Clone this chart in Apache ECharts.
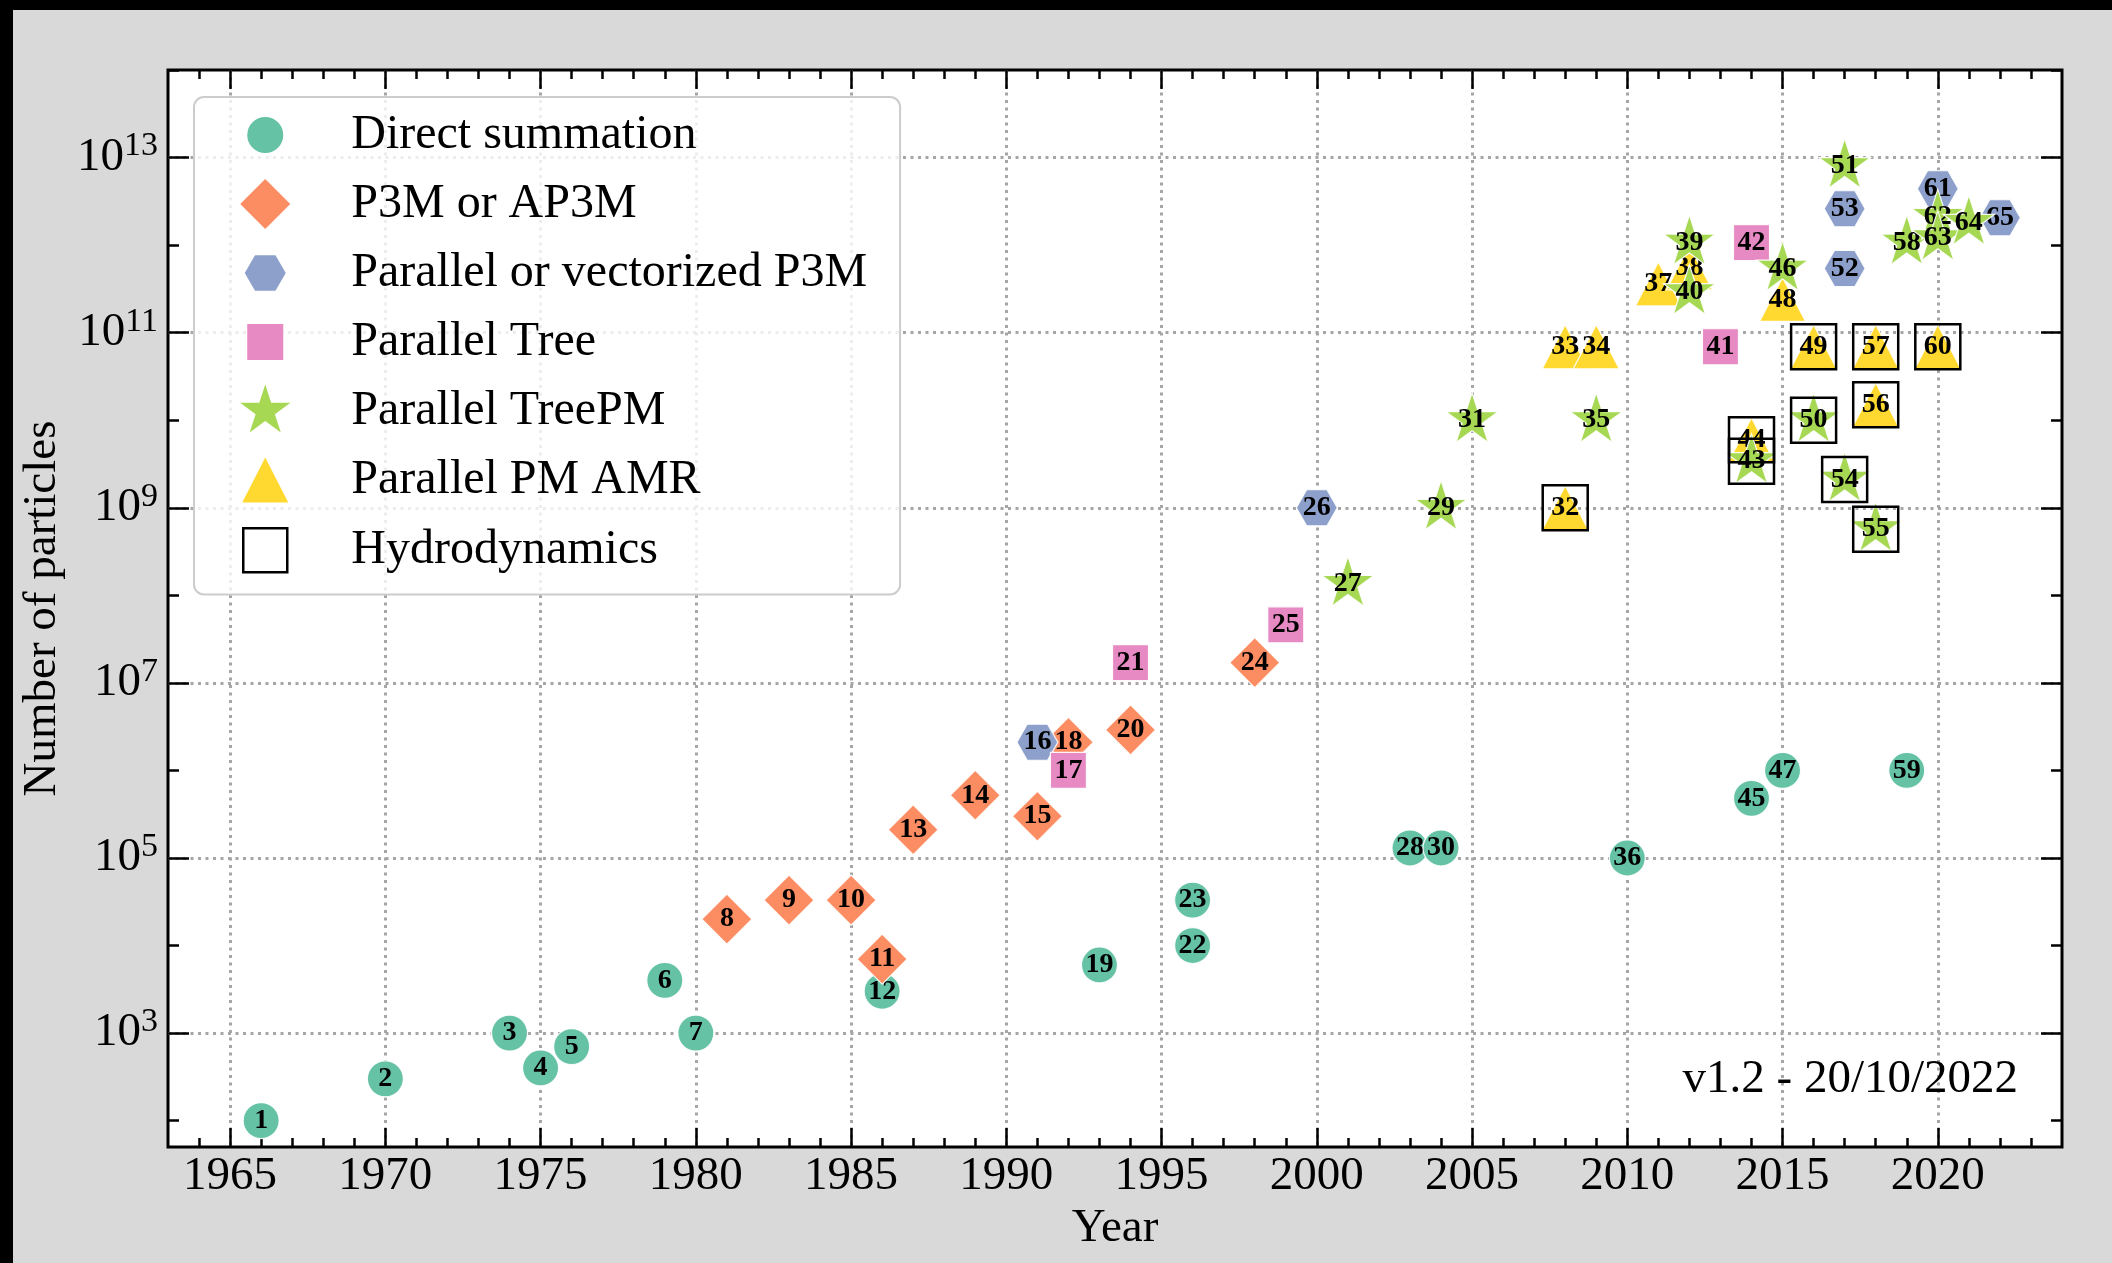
<!DOCTYPE html>
<html>
<head>
<meta charset="utf-8">
<script src="https://cdn.jsdelivr.net/npm/echarts@6/dist/echarts.min.js"></script>
<style>
html, body { margin: 0; padding: 0; background: #d9d9d9; }
#main { width: 2112px; height: 1263px; }
</style>
</head>
<body>
<div id="main"></div>
<script>
var methodNames = ['Direct summation', 'P3M or AP3M', 'Parallel or vectorized P3M',
  'Parallel Tree', 'Parallel TreePM', 'Parallel PM AMR'];
var hydroName = 'Hydrodynamics';

// simulation year, number of particles, method (index in methodNames)
var years = [1966, 1970, 1974, 1975, 1976, 1979, 1980, 1981, 1983, 1985,
  1986, 1986, 1987, 1989, 1991, 1991, 1992, 1992, 1993, 1994,
  1994, 1996, 1996, 1998, 1999, 2000, 2001, 2003, 2004, 2004,
  2005, 2008, 2008, 2009, 2009, 2010, 2011, 2012, 2012, 2012,
  2013, 2014, 2014, 2014, 2014, 2015, 2015, 2015, 2016, 2016,
  2017, 2017, 2017, 2017, 2018, 2018, 2018, 2019, 2019, 2020,
  2020, 2020, 2020, 2021, 2022];
var particles = [1e2, 3e2, 1e3, 4e2, 7e2, 4e3, 1e3, 2e4, 3.3e4, 3.3e4,
  7e3, 3e3, 2.1e5, 5.2e5, 3e5, 2.1e6, 1e6, 2.1e6, 6e3, 2.9e6,
  1.7e7, 1e4, 3.3e4, 1.7e7, 4.6e7, 1e9, 1.35e8, 1.3e5, 1e9, 1.3e5,
  1e10, 1e9, 6.9e10, 6.9e10, 1e10, 1e5, 3.6e11, 5.5e11, 1.07e12, 2.9e11,
  6.9e10, 1.07e12, 3.4e9, 6e9, 4.8e5, 5.4e11, 1e6, 2.4e11, 6.9e10, 1e10,
  8e12, 5.4e11, 2.6e12, 2.1e9, 5.7e8, 1.5e10, 6.9e10, 1.07e12, 1e6, 6.9e10,
  4.4e12, 2.1e12, 1.2e12, 1.8e12, 2.05e12];
var methods = [0, 0, 0, 0, 0, 0, 0, 1, 1, 1,
  1, 0, 1, 1, 1, 2, 3, 1, 0, 1,
  3, 0, 0, 1, 3, 2, 4, 0, 4, 0,
  4, 5, 5, 5, 4, 0, 5, 5, 4, 4,
  3, 3, 4, 5, 0, 4, 0, 5, 5, 4,
  4, 2, 2, 4, 4, 5, 5, 4, 0, 5,
  2, 4, 4, 4, 2];
var hydroIds = [32, 43, 44, 49, 50, 54, 55, 56, 57, 60];

var yearTicks = [1965, 1970, 1975, 1980, 1985, 1990, 1995, 2000, 2005, 2010, 2015, 2020];
var yearMinorTicks = [];
for (var yr = 1964; yr <= 2023; yr++) yearMinorTicks.push(yr);
var powTicks = [1e3, 1e5, 1e7, 1e9, 1e11, 1e13];
var powMinorTicks = [1e2, 1e4, 1e6, 1e8, 1e10, 1e12, 1e14];

var colors = ['#66c2a5', '#fc8d62', '#8da0cb', '#e78ac3', '#a6d854', '#ffd92f'];
// drawing order of the methods (AMR triangles under TreePM stars)
var drawOrder = [0, 1, 2, 3, 5, 4];
var FONT = '"Liberation Serif", "DejaVu Serif", serif';

var hexPath = 'path://M-100,0L-50,-86.6L50,-86.6L100,0L50,86.6L-50,86.6Z';
var starPath = 'path://M0,-100L22.45,-30.9L95.11,-30.9L36.33,11.8L58.78,80.9L0,38.2L-58.78,80.9L-36.33,11.8L-95.11,-30.9L-22.45,-30.9ZM0,100L0,100Z';
var symbols = ['circle', 'diamond', hexPath, 'rect', starPath, 'triangle'];
var sizes = [36, 50, [41, 36], 36, [52, 55], [46, 44]];

// legend icons, padded to a 54x54 box so they keep their own size
var pad = 'M-27,-27L-27,-27ZM27,27L27,27Z';
var legendIcons = [
  'path://M-18,0A18,18,0,1,0,18,0A18,18,0,1,0,-18,0Z' + pad,
  'path://M0,-25L25,0L0,25L-25,0Z' + pad,
  'path://M-20.5,0L-10.25,-17.75L10.25,-17.75L20.5,0L10.25,17.75L-10.25,17.75Z' + pad,
  'path://M-18,-18L18,-18L18,18L-18,18Z' + pad,
  'path://M0,-26.5L5.95,-8.19L25.2,-8.19L9.63,3.13L15.58,21.44L0,10.12L-15.58,21.44L-9.63,3.13L-25.2,-8.19L-5.95,-8.19Z' + pad,
  'path://M0,-22.5L23,22.5L-23,22.5Z' + pad
];
var hydroIcon = 'path://M-22,-22L22,-22L22,22L-22,22Z' + pad;

var order = [];
drawOrder.forEach(function (m) {
  for (var i = 0; i < years.length; i++) if (methods[i] === m) order.push(i);
});

var series = [];
order.forEach(function (i, rank) {
  var m = methods[i];
  series.push({
    type: 'scatter',
    name: methodNames[m],
    z: 10 + rank,
    silent: true,
    symbol: symbols[m],
    symbolSize: sizes[m],
    itemStyle: { color: colors[m], borderColor: 'rgba(255,255,255,0.9)', borderWidth: 1.2, opacity: 1 },
    label: {
      show: true, position: 'inside', formatter: String(i + 1),
      fontFamily: FONT, fontWeight: 'bold', fontSize: 28, color: '#000', textBorderWidth: 0
    },
    data: [[years[i], particles[i]]]
  });
});
series.push({
  type: 'scatter',
  name: hydroName,
  z: 200,
  silent: true,
  symbol: 'rect',
  symbolSize: 45,
  itemStyle: { color: 'rgba(0,0,0,0)', borderColor: '#000', borderWidth: 2.5, opacity: 1 },
  data: hydroIds.map(function (id) { return [years[id - 1], particles[id - 1]]; })
});

var legendData = methodNames.map(function (n, k) {
  return { name: n, icon: legendIcons[k], itemStyle: { color: colors[k], borderWidth: 0 } };
});
legendData.push({ name: hydroName, icon: hydroIcon,
  itemStyle: { color: 'rgba(0,0,0,0)', borderColor: '#000', borderWidth: 2.5 } });

var tickStyle = { color: '#000', width: 2.5 };
var gridLine = { show: true, lineStyle: { color: '#a6a6a6', width: 3, type: [3, 4.5] } };

function xAx(pos, ticks, len, main) {
  return {
    type: 'value', position: pos, min: 1963, max: 2024,
    axisLine: { show: false },
    axisTick: { show: true, inside: true, length: len, lineStyle: tickStyle, customValues: ticks },
    axisLabel: main ? {
      show: true, customValues: yearTicks, fontFamily: FONT, fontSize: 47, color: '#000', margin: 6,
      formatter: function (v) { return String(v); }
    } : { show: false },
    splitLine: main ? gridLine : { show: false },
    name: main ? 'Year' : '', nameLocation: 'middle', nameGap: 50,
    nameTextStyle: { fontFamily: FONT, fontSize: 47, color: '#000' }
  };
}
function yAx(pos, ticks, len, main) {
  return {
    type: 'log', logBase: 10, position: pos, min: 50, max: 1e14,
    axisLine: { show: false },
    axisTick: { show: true, inside: true, length: len, lineStyle: tickStyle, customValues: ticks },
    axisLabel: main ? {
      show: true, customValues: powTicks, margin: 10,
      formatter: function (v) { return '{b|10}{s|' + Math.round(Math.log10(v)) + '}'; },
      rich: {
        b: { fontFamily: FONT, fontSize: 47, color: '#000', lineHeight: 56 },
        s: { fontFamily: FONT, fontSize: 34, color: '#000', lineHeight: 30, verticalAlign: 'top' }
      }
    } : { show: false },
    splitLine: main ? gridLine : { show: false },
    minorTick: { show: false },
    name: main ? 'Number of particles' : '', nameLocation: 'middle', nameGap: 77, nameRotate: 90,
    nameTextStyle: { fontFamily: FONT, fontSize: 47, color: '#000' }
  };
}

var myChart = echarts.init(document.getElementById('main'));
var option = {
  animation: false,
  backgroundColor: '#d9d9d9',
  grid: { left: 168, right: 50, top: 70, bottom: 116, show: true,
    backgroundColor: '#fff', borderColor: '#000', borderWidth: 3 },
  xAxis: [
    xAx('bottom', yearTicks, 19, true),
    xAx('bottom', yearMinorTicks, 9, false),
    xAx('top', yearTicks, 19, false),
    xAx('top', yearMinorTicks, 9, false)
  ],
  yAxis: [
    yAx('left', powTicks, 21, true),
    yAx('left', powMinorTicks, 11, false),
    yAx('right', powTicks, 21, false),
    yAx('right', powMinorTicks, 11, false)
  ],
  legend: {
    orient: 'vertical', left: 194, top: 97, z: 1000,
    padding: [11, 33, 16, 43],
    itemWidth: 54, itemHeight: 54, itemGap: 15,
    backgroundColor: 'rgba(255,255,255,0.8)', borderColor: '#cccccc', borderWidth: 2, borderRadius: 10,
    textStyle: { fontFamily: FONT, fontSize: 48, color: '#000', lineHeight: 54, padding: [0, 0, 0, 54] },
    selectedMode: false,
    data: legendData
  },
  graphic: [
    { type: 'rect', left: 0, top: 0, shape: { width: 2112, height: 10 }, style: { fill: '#000' } },
    { type: 'rect', left: 0, top: 0, shape: { width: 13, height: 1263 }, style: { fill: '#000' } },
    { type: 'text', x: 2018, y: 1080, z: 900,
      style: { text: 'v1.2 - 20/10/2022', font: '47px ' + FONT, fill: '#000', align: 'right', verticalAlign: 'middle' } }
  ],
  series: series
};
myChart.setOption(option);
</script>
</body>
</html>
